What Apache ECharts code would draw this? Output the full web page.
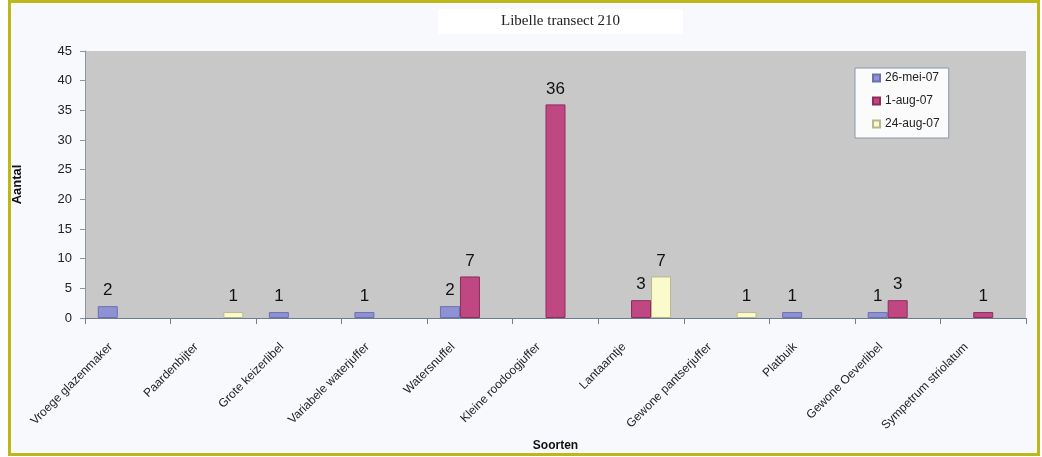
<!DOCTYPE html>
<html>
<head>
<meta charset="utf-8">
<title>Libelle transect 210</title>
<script src="https://cdn.jsdelivr.net/npm/echarts@6/dist/echarts.min.js"></script>
<style>
  html, body { margin: 0; padding: 0; background: #ffffff; }
  #chart { width: 1042px; height: 457px; }
</style>
</head>
<body>
<div id="chart"></div>
<script>
// Species counted along dragonfly transect 210
const species = [
  'Vroege glazenmaker', 'Paardenbijter', 'Grote keizerlibel', 'Variabele waterjuffer',
  'Watersnuffel', 'Kleine roodoogjuffer', 'Lantaarntje', 'Gewone pantserjuffer',
  'Platbuik', 'Gewone Oeverlibel', 'Sympetrum striolatum'
];
const dates = ['26-mei-07', '1-aug-07', '24-aug-07'];
const count26Mei = [2, 0, 1, 1, 2, 0, 0, 0, 1, 1, 0];
const count1Aug  = [0, 0, 0, 0, 7, 36, 3, 0, 0, 3, 1];
const count24Aug = [0, 1, 0, 0, 0, 0, 7, 1, 0, 0, 0];
const yTicks = { min: 0, max: 45, interval: 5 };

const fills   = ['#8e92d4', '#c04882', '#fbfaca'];
const borders = ['#6c70b0', '#8e2c5c', '#b8b890'];
const font = '"Liberation Sans", Arial, sans-serif';

const seriesData = [count26Mei, count1Aug, count24Aug];

const chart = echarts.init(document.getElementById('chart'), null, { renderer: 'canvas' });

chart.setOption({
  animation: false,
  backgroundColor: '#ffffff',
  graphic: [{
    type: 'rect',
    z: -10,
    shape: { x: 9.5, y: 1.5, width: 1029, height: 453 },
    style: { fill: '#f8f9fc', stroke: '#bdb81a', lineWidth: 3 }
  }],
  title: {
    text: 'Libelle transect 210',
    left: 438,
    top: 9,
    backgroundColor: '#ffffff',
    padding: [5, 63, 5, 63],
    textStyle: {
      fontFamily: '"Liberation Serif", "DejaVu Serif", serif',
      fontSize: 15,
      fontWeight: 'normal',
      color: '#222222'
    }
  },
  legend: {
    data: dates,
    orient: 'vertical',
    left: 855,
    top: 68,
    icon: 'rect',
    itemWidth: 7,
    itemHeight: 7,
    itemGap: 11,
    padding: [4, 9, 8, 17],
    backgroundColor: '#fcfbfb',
    borderColor: '#8a98a8',
    borderWidth: 1,
    textStyle: { fontFamily: font, fontSize: 12, color: '#222222' }
  },
  grid: {
    left: 85,
    right: 16,
    top: 51,
    bottom: 139,
    outerBoundsMode: 'none',
    containLabel: false,
    show: true,
    backgroundColor: '#c8c8c8',
    borderWidth: 0
  },
  xAxis: {
    type: 'category',
    data: species,
    name: 'Soorten',
    nameLocation: 'middle',
    nameGap: 122,
    nameTextStyle: { fontFamily: font, fontSize: 12, fontWeight: 'bold', color: '#111111' },
    axisLine: { lineStyle: { color: '#6e7e90', width: 1 } },
    axisTick: { show: true, length: 6, lineStyle: { color: '#6e7e90' } },
    axisLabel: {
      rotate: 45,
      margin: 10,
      padding: [0, 24, 0, 0],
      interval: 0,
      fontFamily: font,
      fontSize: 12,
      color: '#222222'
    },
    splitLine: { show: false }
  },
  yAxis: {
    type: 'value',
    min: yTicks.min,
    max: yTicks.max,
    interval: yTicks.interval,
    name: 'Aantal',
    nameLocation: 'middle',
    nameGap: 61,
    nameTextStyle: { fontFamily: font, fontSize: 13, fontWeight: 'bold', color: '#111111' },
    axisLine: { show: true, lineStyle: { color: '#8a96a4', width: 1 } },
    axisTick: { show: true, length: 5, lineStyle: { color: '#8a96a4' } },
    axisLabel: { margin: 13, fontFamily: font, fontSize: 13, color: '#222222' },
    splitLine: { show: false }
  },
  series: dates.map((d, i) => ({
    name: d,
    type: 'bar',
    barWidth: 20,
    barGap: '0%',
    data: seriesData[i].map(v => (v === 0 ? null : v)),
    itemStyle: { color: fills[i], borderColor: borders[i], borderWidth: 1 },
    label: {
      show: true,
      position: 'top',
      distance: 7,
      fontFamily: font,
      fontSize: 17,
      color: '#111111'
    }
  }))
});
</script>
</body>
</html>
